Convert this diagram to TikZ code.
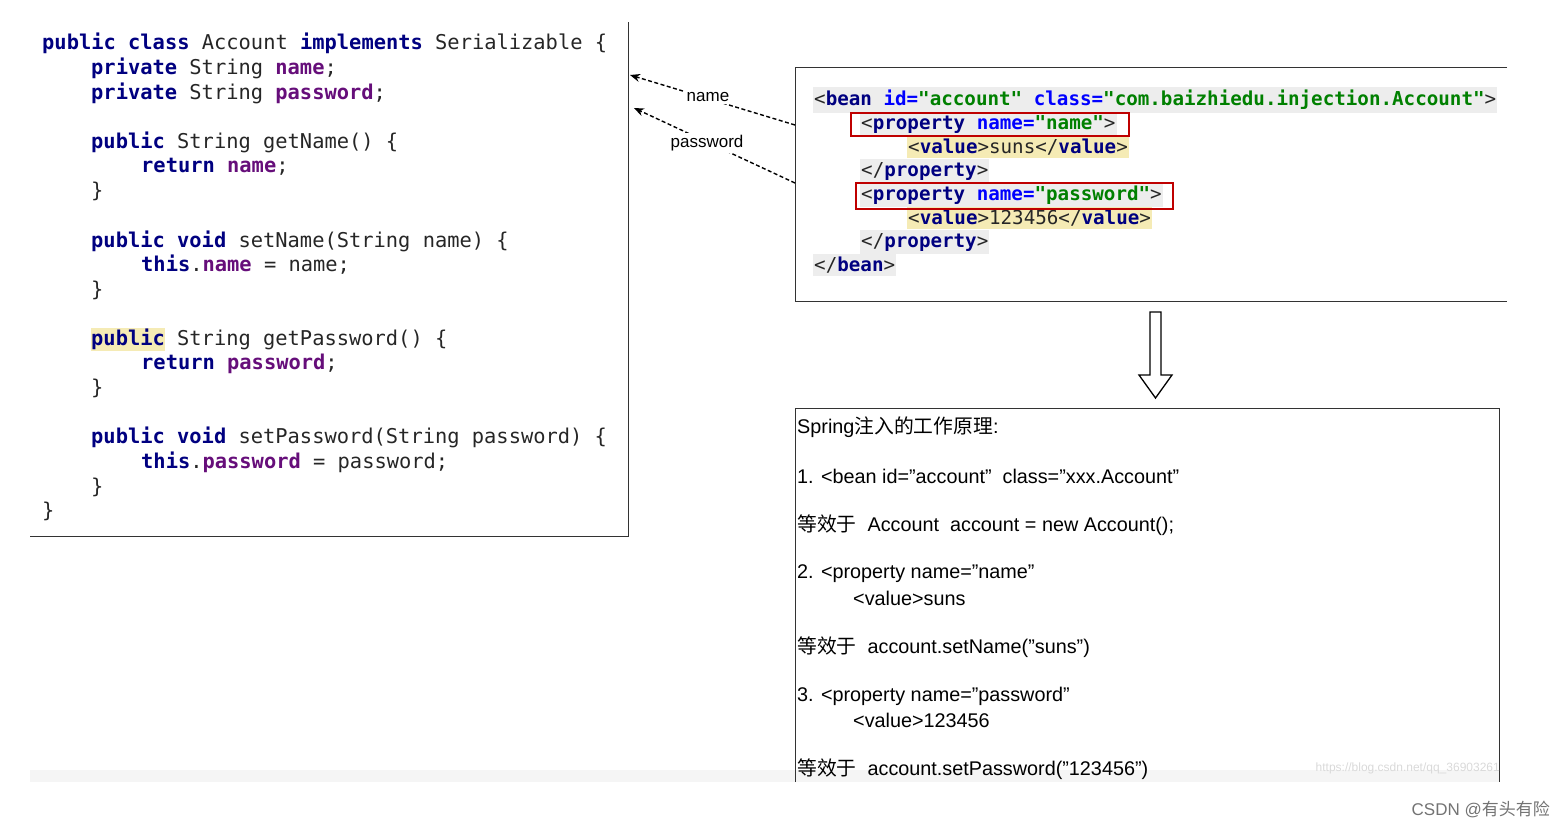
\documentclass[tikz,border=0pt]{standalone}
\usepackage{fontspec}
\setmainfont{Liberation Sans}[Ligatures=ResetAll]
\setmonofont{DejaVu Sans Mono}
\newfontfamily\cjk{Noto Sans CJK SC}
\usetikzlibrary{arrows.meta}
\definecolor{kw}{HTML}{000080}
\definecolor{fld}{HTML}{660E7A}
\definecolor{str}{HTML}{008000}
\definecolor{att}{HTML}{0000FF}
\definecolor{hly}{HTML}{F5EBB5}
\definecolor{hlg}{HTML}{EDEDED}
\newcommand{\K}[1]{\textcolor{kw}{\bfseries #1}}
\newcommand{\F}[1]{\textcolor{fld}{\bfseries #1}}
\newcommand{\Sg}[1]{\textcolor{str}{\bfseries #1}}
\newcommand{\A}[1]{\textcolor{att}{\bfseries #1}}
\newcommand{\dq}{"}
\begin{document}
\begin{tikzpicture}[x=1pt,y=-1pt,
 code/.style={anchor=west,inner sep=0pt,font=\fontsize{20.4}{24}\ttfamily,text=black!85},
 xml/.style={anchor=west,inner xsep=1pt,inner ysep=3pt,font=\fontsize{19.2}{23}\ttfamily,text=black!85},
 txt/.style={anchor=west,inner sep=0pt,font=\fontsize{19.8}{23}\selectfont},
 redbox/.style={draw=red!75!black,line width=1.4pt},
 dasharrow/.style={dash pattern=on 4pt off 2.5pt,line width=1.4pt,-{Stealth[length=10pt,width=8pt]}},
 frame/.style={line width=0.9pt,draw=black!80}]
\useasboundingbox (0,0) rectangle (1564,828);
\fill[black!4] (30,770) rectangle (1500,782);
% code box
\draw[frame] (628,22) -- (628,536) -- (30,536);
\fill[hly] (91,328) rectangle (165,351);
\node[code] (c1) at (42,43) {\K{public class} Account \K{implements} Serializable \{};
\node[code] (c2) at (91,68) {\K{private} String \F{name};};
\node[code] (c3) at (91,93) {\K{private} String \F{password};};
\node[code] (c4) at (91,142) {\K{public} String getName() \{};
\node[code] (c5) at (141,167) {\K{return} \F{name};};
\node[code] (c6) at (91,191) {\}};
\node[code] (c7) at (91,241) {\K{public void} setName(String name) \{};
\node[code] (c8) at (141,265) {\K{this}.\F{name} = name;};
\node[code] (c9) at (91,290) {\}};
\node[code] (c10) at (91,339) {\K{public} String getPassword() \{};
\node[code] (c11) at (141,364) {\K{return} \F{password};};
\node[code] (c12) at (91,388) {\}};
\node[code] (c13) at (91,437) {\K{public void} setPassword(String password) \{};
\node[code] (c14) at (141,462) {\K{this}.\F{password} = password;};
\node[code] (c15) at (91,487) {\}};
\node[code] (c16) at (42,511) {\}};
% xml box
\draw[frame] (1507,67) -- (795,67) -- (795,301) -- (1507,301);
\node[xml,fill=hlg] (x1) at (813,100) {<\K{bean} \A{id=}\Sg{"account"} \A{class=}\Sg{"com.baizhiedu.injection.Account"}>};
\node[xml,fill=hlg] (x2) at (860,124) {<\K{property} \A{name=}\Sg{"name"}>};
\node[xml,fill=hly] (x3) at (907,147) {<\K{value}>suns</\K{value}>};
\node[xml,fill=hlg] (x4) at (860,171) {</\K{property}>};
\node[xml,fill=hlg] (x5) at (860,195) {<\K{property} \A{name=}\Sg{"password"}>};
\node[xml,fill=hly] (x6) at (907,218) {<\K{value}>123456</\K{value}>};
\node[xml,fill=hlg] (x7) at (860,242) {</\K{property}>};
\node[xml,fill=hlg] (x8) at (813,265) {</\K{bean}>};
\draw[redbox] (851,113) rectangle (1129,136);
\draw[redbox] (856,183) rectangle (1173,209);
% dashed arrows
\coordinate (s1) at (795,125);
\coordinate (e1) at (630,75);
\coordinate (s2) at (795,183);
\coordinate (e2) at (634,108);
\draw[dasharrow] (s1) -- (e1);
\draw[dasharrow] (s2) -- (e2);
\node[fill=white,inner sep=2pt,font=\fontsize{17}{20}\selectfont] (l1) at (708,97) {name};
\node[fill=white,inner sep=2pt,font=\fontsize{17}{20}\selectfont] (l2) at (707,143) {password};
% hollow arrow
\draw[line width=1.3pt,fill=white] (1150,312) -- (1161,312) -- (1161,375) -- (1172,375) -- (1155.5,398) -- (1139,375) -- (1150,375) -- cycle;
% bottom box
\draw[frame] (795,782) -- (795,408) -- (1499,408) -- (1499,782);
\node[txt] (t1) at (797,427) {Spring{\cjk 注入的工作原理}:};
\node[txt] (t2) at (797,476) {1. <bean id=\dq account\dq\ \ class=\dq xxx.Account\dq};
\node[txt] (t3) at (797,525) {{\cjk 等效于}\ \ Account\ \ account = new Account();};
\node[txt] (t4) at (797,574) {2. <property name=\dq name\dq};
\node[txt] (t5) at (853,598) {<value>suns};
\node[txt] (t6) at (797,647) {{\cjk 等效于}\ \ account.setName(\dq suns\dq)};
\node[txt] (t7) at (797,696) {3. <property name=\dq password\dq};
\node[txt] (t8) at (853,720) {<value>123456};
\node[txt] (t9) at (797,769) {{\cjk 等效于}\ \ account.setPassword(\dq 123456\dq)};
\node[anchor=east,inner sep=0pt,text=black!15,font=\fontsize{12}{14}\selectfont] (wm) at (1500,768) {https://blog.csdn.net/qq\_36903261};
\node[anchor=east,inner sep=0pt,text=black!55,font=\fontsize{17}{20}\selectfont] (csdn) at (1550,809) {CSDN @{\cjk 有头有险}};
\end{tikzpicture}
\end{document}
